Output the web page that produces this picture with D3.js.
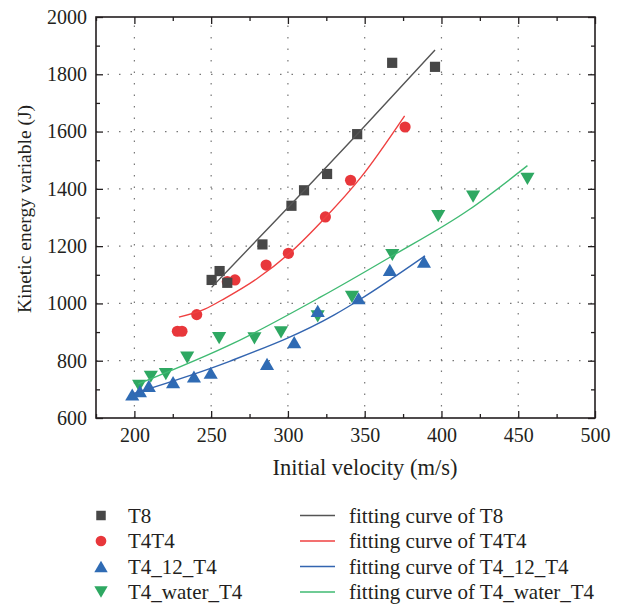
<!DOCTYPE html>
<html>
<head>
<meta charset="utf-8">
<script src="https://cdn.jsdelivr.net/npm/d3@7"></script>
<style>
  body { margin: 0; background: #fff; }
  text { font-family: "Liberation Serif", "DejaVu Serif", serif; fill: #231f20; }
</style>
</head>
<body>
<div id="chart"></div>
<script>
// measured points
var t8X = [250.3, 255.5, 260.5, 283.4, 302.3, 310.5, 325.5, 345.1, 367.9, 395.8];
var t8Y = [1082, 1113, 1072, 1206, 1341, 1395, 1452, 1591, 1840, 1826];

var t4t4X = [228, 231, 240.6, 260.5, 265.5, 285.8, 300.3, 324.4, 340.8, 376.3];
var t4t4Y = [903, 903, 961, 1076, 1082, 1134, 1175, 1302, 1430, 1616];

var t412X = [198.6, 203.6, 209.4, 225.2, 238.8, 249.7, 286.4, 304.1, 319.4, 346, 366.4, 388.6];
var t412Y = [682, 694, 712, 725, 745, 758, 789, 865, 974, 1018, 1117, 1146];

var waterX = [203.1, 210.7, 220.5, 234.4, 255.2, 278.2, 295.5, 319.4, 341.7, 368, 397.9, 420.6, 456];
var waterY = [712, 744, 753, 811, 879, 878, 899, 955, 1023, 1169, 1305, 1373, 1435];

// fitting curves
var fitT8X = [250.3, 345.1, 395.8];
var fitT8Y = [1056, 1591, 1885];
var fitT4T4X = [229, 245.8, 259, 280, 301, 324.4, 347.5, 376];
var fitT4T4Y = [952, 980, 1018, 1087, 1175, 1300, 1440, 1655];
var fitT412X = [199.7, 262, 330.2, 346.4, 389.3];
var fitT412Y = [686, 798, 960, 1012, 1166];
var fitWaterX = [202.5, 265.3, 320.5, 367, 417.9, 456];
var fitWaterY = [719, 863, 1020, 1163, 1327, 1481];

var xTicks = [200, 250, 300, 350, 400, 450, 500];
var xMinor = [175, 225, 275, 325, 375, 425, 475];
var yTicks = [600, 800, 1000, 1200, 1400, 1600, 1800, 2000];
var yMinor = [700, 900, 1100, 1300, 1500, 1700, 1900];

var seriesNames = ["T8", "T4T4", "T4_12_T4", "T4_water_T4"];
var markColors = ["#474747", "#e8373b", "#2f6bb4", "#2ea862"];
var lineColors = ["#555555", "#ef4040", "#3365b0", "#3fba72"];

var W = 625, H = 604;
var pLeft = 96, pRight = 595, pTop = 17, pBottom = 418;

var x = d3.scaleLinear().domain([175, 500]).range([pLeft, pRight]);
var y = d3.scaleLinear().domain([600, 2000]).range([pBottom, pTop]);

var svg = d3.select("#chart").append("svg")
    .attr("width", W)
    .attr("height", H);
svg.append("rect").attr("width", W).attr("height", H).attr("fill", "#fff");

// triangles centred on their box like the original
var triUp = {
    draw: function (ctx, size) {
        var w = Math.sqrt(size), h = w * 0.86;
        ctx.moveTo(0, -h / 2);
        ctx.lineTo(w / 2, h / 2);
        ctx.lineTo(-w / 2, h / 2);
        ctx.closePath();
    }
};
var triDown = {
    draw: function (ctx, size) {
        var w = Math.sqrt(size), h = w * 0.86;
        ctx.moveTo(0, h / 2);
        ctx.lineTo(w / 2, -h / 2);
        ctx.lineTo(-w / 2, -h / 2);
        ctx.closePath();
    }
};
var shapes = [
    d3.symbol().type(d3.symbolSquare).size(104),
    d3.symbol().type(d3.symbolCircle).size(98),
    d3.symbol().type(triUp).size(200),
    d3.symbol().type(triDown).size(200)
];

// grid
var grid = svg.append("g").attr("stroke", "#777").attr("stroke-width", 1.2)
    .attr("stroke-dasharray", "1.5,10");
xTicks.slice(0, -1).forEach(function (v) {
    grid.append("line").attr("x1", x(v)).attr("x2", x(v)).attr("y1", pBottom).attr("y2", pTop);
});
yTicks.slice(1, -1).forEach(function (v) {
    grid.append("line").attr("x1", pLeft).attr("x2", pRight).attr("y1", y(v)).attr("y2", y(v));
});

// axes, ticks inward on all four sides
function styleAxis(g) {
    g.select(".domain").remove();
    g.selectAll(".tick line").attr("stroke", "#231f20").attr("stroke-width", 1.3);
    g.selectAll("text").style("font-size", "20px").attr("fill", "#231f20")
        .style("font-family", "'Liberation Serif', serif");
}
svg.append("g").attr("transform", "translate(0," + pBottom + ")")
    .call(d3.axisBottom(x).tickValues(xTicks).tickSize(-7).tickPadding(9.5).tickFormat(d3.format("d")))
    .call(styleAxis);
svg.append("g").attr("transform", "translate(0," + pBottom + ")")
    .call(d3.axisBottom(x).tickValues(xMinor).tickSize(-4).tickFormat(""))
    .call(styleAxis);
svg.append("g").attr("transform", "translate(0," + pTop + ")")
    .call(d3.axisTop(x).tickValues(xTicks).tickSize(-7).tickFormat(""))
    .call(styleAxis);
svg.append("g").attr("transform", "translate(0," + pTop + ")")
    .call(d3.axisTop(x).tickValues(xMinor).tickSize(-4).tickFormat(""))
    .call(styleAxis);
svg.append("g").attr("transform", "translate(" + pLeft + ",0)")
    .call(d3.axisLeft(y).tickValues(yTicks).tickSize(-7).tickPadding(9).tickFormat(d3.format("d")))
    .call(styleAxis);
svg.append("g").attr("transform", "translate(" + pLeft + ",0)")
    .call(d3.axisLeft(y).tickValues(yMinor).tickSize(-4).tickFormat(""))
    .call(styleAxis);
svg.append("g").attr("transform", "translate(" + pRight + ",0)")
    .call(d3.axisRight(y).tickValues(yTicks).tickSize(-7).tickFormat(""))
    .call(styleAxis);
svg.append("g").attr("transform", "translate(" + pRight + ",0)")
    .call(d3.axisRight(y).tickValues(yMinor).tickSize(-4).tickFormat(""))
    .call(styleAxis);

svg.append("rect")
    .attr("x", pLeft).attr("y", pTop)
    .attr("width", pRight - pLeft).attr("height", pBottom - pTop)
    .attr("fill", "none").attr("stroke", "#231f20").attr("stroke-width", 1.6);

// fitted curves
var fits = [[fitT8X, fitT8Y], [fitT4T4X, fitT4T4Y], [fitT412X, fitT412Y], [fitWaterX, fitWaterY]];
var line = d3.line()
    .x(function (d) { return x(d[0]); })
    .y(function (d) { return y(d[1]); })
    .curve(d3.curveMonotoneX);

// scatter points
var pts = [[t8X, t8Y], [t4t4X, t4t4Y], [t412X, t412Y], [waterX, waterY]];
var drawOrder = [3, 2, 1, 0];
drawOrder.forEach(function (s) {
    var xs = pts[s][0], ys = pts[s][1];
    var data = xs.map(function (v, i) { return [v, ys[i]]; });
    svg.append("g").selectAll("path").data(data).enter().append("path")
        .attr("d", shapes[s])
        .attr("transform", function (d) { return "translate(" + x(d[0]) + "," + y(d[1]) + ")"; })
        .attr("fill", markColors[s]);
});
drawOrder.forEach(function (s) {
    var data = fits[s][0].map(function (v, i) { return [v, fits[s][1][i]]; });
    svg.append("path").attr("d", line(data))
        .attr("fill", "none")
        .attr("stroke", lineColors[s])
        .attr("stroke-width", 1.4);
});

// axis titles
svg.append("text")
    .attr("x", 365).attr("y", 475)
    .attr("text-anchor", "middle")
    .style("font-size", "22.5px")
    .text("Initial velocity (m/s)");
svg.append("text")
    .attr("transform", "translate(31,209) rotate(-90)")
    .attr("text-anchor", "middle")
    .style("font-size", "19.5px")
    .text("Kinetic energy variable (J)");

// legend
var rowY = [515.5, 541, 566.5, 592];
seriesNames.forEach(function (name, i) {
    svg.append("path").attr("d", shapes[i].size(i < 2 ? 90 : 180)())
        .attr("transform", "translate(101," + rowY[i] + ")")
        .attr("fill", markColors[i]);
    svg.append("text").attr("x", 128).attr("y", rowY[i]).attr("dy", "0.35em")
        .style("font-size", "21px").text(name);
    svg.append("line").attr("x1", 300).attr("x2", 335)
        .attr("y1", rowY[i]).attr("y2", rowY[i])
        .attr("stroke", lineColors[i]).attr("stroke-width", 1.5);
    svg.append("text").attr("x", 349).attr("y", rowY[i]).attr("dy", "0.35em")
        .style("font-size", "21px").text("fitting curve of " + name);
});
</script>
</body>
</html>
